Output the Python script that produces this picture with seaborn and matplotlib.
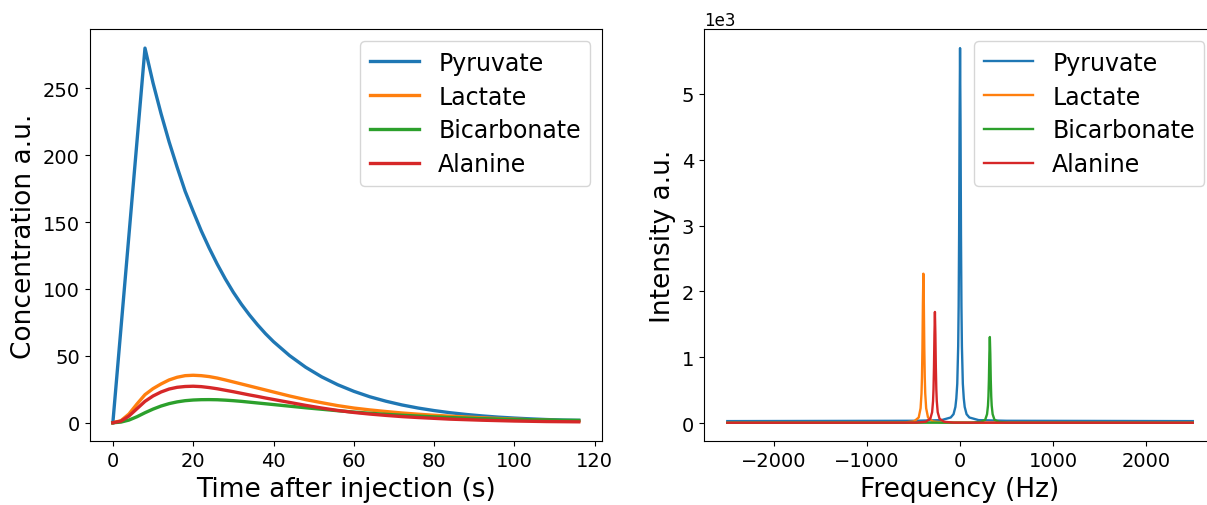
import numpy as np
import pandas as pd
import matplotlib
matplotlib.use("Agg")
import matplotlib.pyplot as plt
import seaborn as sns

# curvas de concentracao
time_s = [0, 2, 4, 6, 8, 10, 12, 14, 16, 18, 20, 22, 24, 26, 28, 30, 32, 34, 36, 38, 40,
          44, 48, 52, 56, 60, 64, 68, 72, 76, 80, 84, 88, 92, 96, 100, 104, 108, 112, 116]
pyruvate = [0, 70, 140, 210, 280, 254, 231, 210, 191, 173, 158, 143.5, 130.5, 118.5, 107.5, 97.5, 88.6, 80.6, 73.3, 66.6, 60.6,
            50.2, 41.5, 34.3, 28.4, 23.5, 19.4, 16.1, 13.3, 11, 9.1, 7.5, 6.2, 5.1, 4.2, 3.5, 2.9, 2.4, 2.0, 1.8]
lactate = [0, 1.5, 6.5, 14, 21, 25.5, 29, 32, 34, 35.2, 35.5, 35.2, 34.5, 33.4, 32, 30.5, 29, 27.5, 26, 24.5, 23,
           20, 17.3, 15, 12.8, 11, 9.6, 8.4, 7.3, 6.4, 5.6, 4.9, 4.3, 3.7, 3.2, 2.7, 2.3, 1.9, 1.5, 1.2]
bicarbonate = [0, 0.5, 2, 4.5, 7.5, 10.2, 12.5, 14.3, 15.6, 16.5, 17, 17.25, 17.3, 17.2, 16.9, 16.5, 16, 15.4, 14.8, 14.2, 13.6,
               12.4, 11.2, 10.1, 9.0, 8.0, 7.1, 6.3, 5.6, 5.0, 4.4, 3.9, 3.5, 3.1, 2.8, 2.5, 2.3, 2.1, 1.9, 1.8]
alanine = [0, 1.2, 5, 10.5, 16, 20, 23, 25.2, 26.5, 27.1, 27.3, 27, 26.3, 25.4, 24.3, 23.2, 22, 20.8, 19.7, 18.5, 17.4,
           15.2, 13.0, 11.0, 9.2, 7.7, 6.5, 5.5, 4.6, 3.9, 3.3, 2.7, 2.3, 1.9, 1.6, 1.3, 1.1, 0.9, 0.8, 0.7]

# espectro (Hz, intensidade)
pyr_freq = [-2500, -500, -200, -100, -70, -50, -40, -30, -20, -15, -10, -5, 0,
            5, 10, 15, 20, 30, 40, 50, 70, 100, 200, 500, 2500]
pyr_int = [35, 40, 50, 90, 140, 250, 380, 600, 1170, 1780, 2880, 4580, 5690,
           4580, 2880, 1780, 1170, 600, 380, 250, 140, 90, 50, 40, 35]
lac_freq = [-2500, -894, -594, -494, -444, -424, -414, -409, -404, -399, -394,
            -389, -384, -379, -374, -364, -344, -294, -194, 106, 2500]
lac_int = [10, 12, 15, 30, 90, 230, 455, 700, 1140, 1820, 2270,
           1820, 1140, 700, 455, 230, 90, 30, 15, 12, 10]
bic_freq = [-2500, -180, 120, 220, 270, 290, 300, 305, 310, 315, 320,
            325, 330, 335, 340, 350, 370, 420, 520, 820, 2500]
bic_int = [10, 11, 12, 22, 55, 140, 270, 410, 660, 1050, 1310,
           1050, 660, 410, 270, 140, 55, 22, 12, 11, 10]
ala_freq = [-2500, -770, -470, -370, -320, -300, -290, -285, -280, -275, -270,
            -265, -260, -255, -250, -240, -220, -170, -70, 230, 2500]
ala_int = [10, 11, 12, 25, 70, 170, 340, 520, 850, 1350, 1690,
           1350, 850, 520, 340, 170, 70, 25, 12, 11, 10]

names = ['Pyruvate', 'Lactate', 'Bicarbonate', 'Alanine']
colors = ['#1f77b4', '#ff7f0e', '#2ca02c', '#d62728']

fig = plt.figure(figsize=(12.07, 5.06), dpi=100)
ax1 = fig.add_axes([0.0742, 0.1255, 0.4246, 0.8145])
ax2 = fig.add_axes([0.5833, 0.1255, 0.4242, 0.8145])

# curvas no tempo
for name, vals, c in zip(names, [pyruvate, lactate, bicarbonate, alanine], colors):
    sns.lineplot(x=time_s, y=vals, color=c, label=name, linewidth=2.4, ax=ax1)
ax1.set_xlabel('Time after injection (s)', fontsize=19)
ax1.set_ylabel('Concentration a.u.', fontsize=19)
ax1.tick_params(labelsize=14)
ax1.legend(loc='upper right', fontsize=17, handlelength=2.1, labelspacing=0.42)

# espectro
spectra = [(pyr_freq, pyr_int), (lac_freq, lac_int), (bic_freq, bic_int), (ala_freq, ala_int)]
for name, (f, I), c in zip(names, spectra, colors):
    sns.lineplot(x=f, y=I, color=c, label=name, linewidth=1.7, ax=ax2)
ax2.set_xlabel('Frequency (Hz)', fontsize=19)
ax2.set_ylabel('Intensity a.u.', fontsize=19)
ax2.ticklabel_format(axis='y', style='sci', scilimits=(3, 3))
ax2.tick_params(labelsize=14)
ax2.yaxis.get_offset_text().set_fontsize(12)
ax2.legend(loc='upper right', fontsize=17, handlelength=2.1, labelspacing=0.42)

fig.savefig('out.png', dpi=100)
